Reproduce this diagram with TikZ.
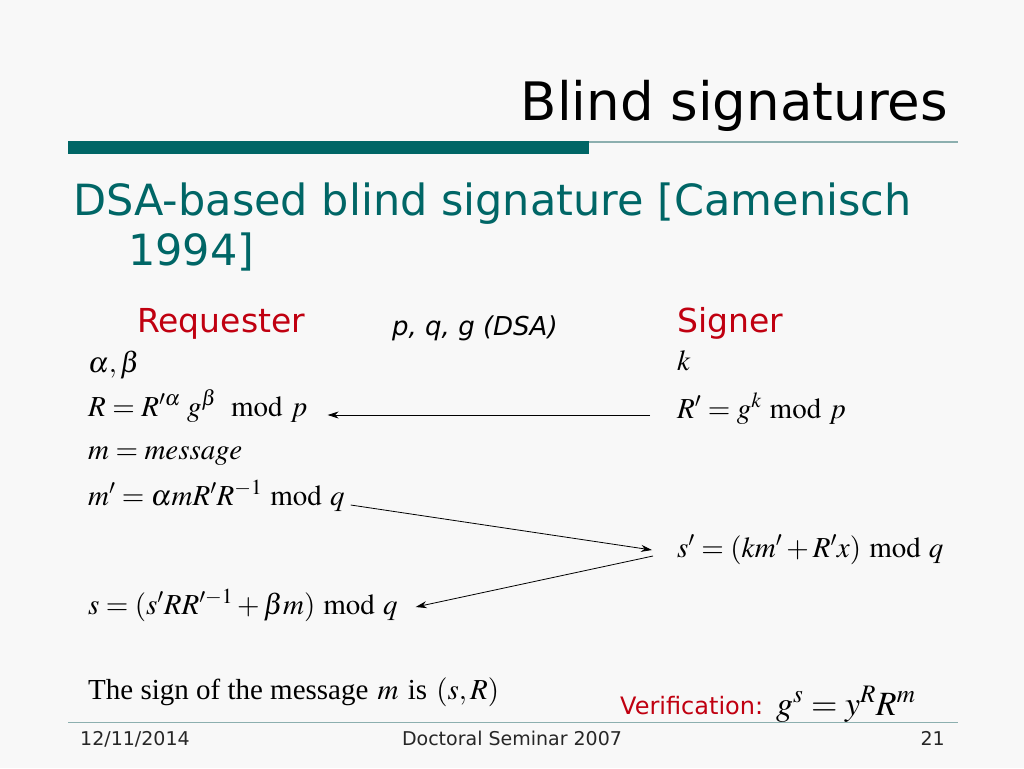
\documentclass[tikz,border=0pt]{standalone}
\usepackage{mathptmx}
\usepackage[no-math]{fontspec}
\setmainfont{DejaVu Sans}
\newfontfamily\timesfont{Liberation Serif}
\usetikzlibrary{arrows.meta}
\definecolor{slideteal}{RGB}{0,102,102}
\definecolor{slidered}{RGB}{192,0,16}
\definecolor{rulegray}{RGB}{140,175,175}
\definecolor{slidebg}{RGB}{248,248,248}

\begin{document}
\begin{tikzpicture}[x=1pt,y=-1pt,>={Stealth[length=11pt,width=7pt]}]
 \tikzstyle{formula} = [anchor=base west,inner sep=0pt,font=\fontsize{29}{34}\selectfont]
 \tikzstyle{party} = [anchor=base west,inner sep=0pt,text=slidered,font=\fontsize{33}{38}\selectfont]
 \tikzstyle{footer} = [anchor=base,inner sep=0pt,text=black!85,font=\fontsize{19}{22}\selectfont]
 \tikzstyle{msgarrow} = [->,line width=0.8pt]

% Slide background and rules
 \fill[slidebg] (0,0) rectangle (1024,768);
 \fill[slideteal] (68,141) rectangle (589,154);
 \draw[rulegray,line width=1.5pt] (589,142) -- (958,142);
 \draw[rulegray,line width=1pt] (68,722) -- (958,722);

% Headings
 \node[anchor=base east,inner sep=0pt,font=\fontsize{53}{60}\selectfont] (title) at (948,120) {Blind signatures};
 \node[anchor=base west,inner sep=0pt,text=slideteal,font=\fontsize{43}{50}\selectfont] (topic) at (73,215) {DSA-based blind signature [Camenisch};
 \node[anchor=base west,inner sep=0pt,text=slideteal,font=\fontsize{43}{50}\selectfont] (topicyear) at (128,265) {1994]};
 \node[party] (req) at (137,332) {Requester};
 \node[party] (sig) at (677,332) {Signer};
 \node[anchor=base west,inner sep=0pt,font=\fontsize{26}{30}\selectfont\itshape] (params) at (392,335) {p, q, g (DSA)};

% Requester side
 \node[formula] (ab) at (88,372) {$\alpha,\beta$};
 \node[formula] (rR) at (88,416) {$R = R'^{\alpha}\; g^{\beta}\; \bmod p$};
 \node[formula] (msg) at (88,459) {$m = message$};
 \node[formula] (mp) at (88,505) {$m' = \alpha m R' R^{-1} \bmod q$};
 \node[formula] (rs) at (88,614) {$s = (s' R R'^{-1} + \beta m) \bmod q$};
 \node[formula] (sign) at (88,699) {{\timesfont The sign of the message} $m$ {\timesfont is} $(s,R)$};

% Signer side
 \node[formula] (kk) at (677,370) {$k$};
 \node[formula] (sR) at (677,418) {$R' = g^{k} \bmod p$};
 \node[formula] (ss) at (677,557) {$s' = (km' + R'x) \bmod q$};

% Verification
 \node[anchor=base west,inner sep=0pt,text=slidered,font=\fontsize{24}{28}\selectfont] (ver) at (620,714) {Verification:};
 \node[anchor=base west,inner sep=0pt,font=\fontsize{34}{40}\selectfont] (vereq) at (776,715) {$g^{s} = y^{R} R^{m}$};

% Messages
 \draw[msgarrow] ([shift={(-27,-3)}]sR.base west) -- ([shift={(20,-1)}]rR.base east);
 \draw[msgarrow] ([shift={(6,0)}]mp.base east) -- ([shift={(-25,-7)}]ss.base west);
 \draw[msgarrow] ([shift={(-24,-1)}]ss.base west) -- ([shift={(18,-7)}]rs.base east);

% Footer
 \node[footer,anchor=base west] (date) at (80,745) {12/11/2014};
 \node[footer] (event) at (512,745) {Doctoral Seminar 2007};
 \node[footer,anchor=base east] (page) at (945,745) {21};
\end{tikzpicture}
\end{document}
